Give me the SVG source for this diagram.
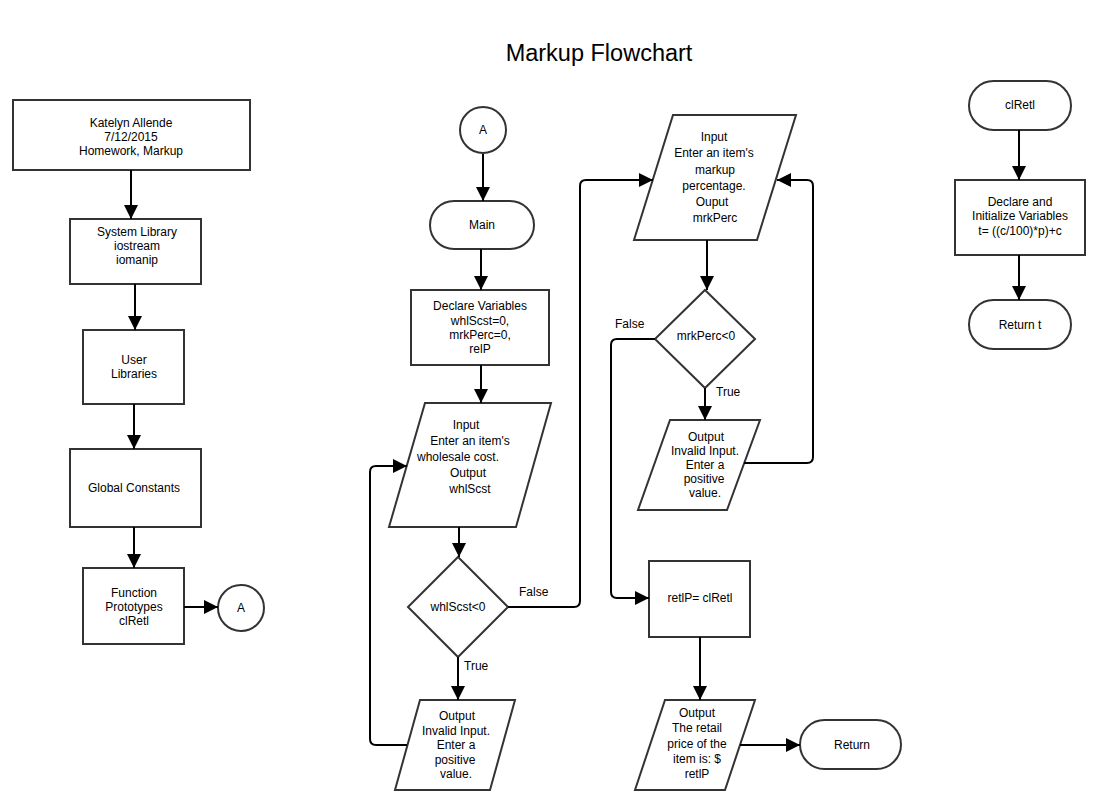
<svg xmlns="http://www.w3.org/2000/svg" width="1110" height="810" viewBox="0 0 1110 810">
<style>
.s{fill:#fff;stroke:#333;stroke-width:2}
.t{font-family:"Liberation Sans",Arial,sans-serif;font-size:12px;fill:#000;text-anchor:middle}
.l{font-family:"Liberation Sans",Arial,sans-serif;font-size:12px;fill:#000}
.c{fill:none;stroke:#000;stroke-width:2}
</style>
<defs>
<marker id="ah" markerUnits="userSpaceOnUse" markerWidth="14" markerHeight="14" refX="14" refY="7" orient="auto">
<path d="M0,0 L14,7 L0,14 z" fill="#000"/>
</marker>
</defs>
<rect width="1110" height="810" fill="#fff"/>
<text x="599" y="61" style="font-family:'Liberation Sans',Arial,sans-serif;font-size:23.5px;text-anchor:middle">Markup Flowchart</text>

<g id="header"><rect class="s" x="13" y="100" width="237" height="70"/>
<text class="t" x="131" y="127">Katelyn Allende</text><text class="t" x="131" y="141">7/12/2015</text><text class="t" x="131" y="155">Homework, Markup</text></g>
<g id="syslib"><rect class="s" x="70" y="219" width="131" height="65"/>
<text class="t" x="137" y="236">System Library</text><text class="t" x="137" y="250">iostream</text><text class="t" x="137" y="264">iomanip</text></g>
<g id="userlib"><rect class="s" x="83" y="330" width="101" height="74"/>
<text class="t" x="134" y="364">User</text><text class="t" x="134" y="378">Libraries</text></g>
<g id="globals"><rect class="s" x="70" y="449" width="131" height="78"/>
<text class="t" x="134" y="492">Global Constants</text></g>
<g id="protos"><rect class="s" x="83" y="568" width="101" height="76"/>
<text class="t" x="134" y="597">Function</text><text class="t" x="134" y="611">Prototypes</text><text class="t" x="134" y="625">clRetl</text></g>
<g id="connA1"><circle class="s" cx="241" cy="608" r="23"/><text class="t" x="241" y="612">A</text></g>

<g id="connA2"><circle class="s" cx="483" cy="130" r="23"/><text class="t" x="483" y="134">A</text></g>
<g id="main"><rect class="s" x="430" y="201" width="104" height="48" rx="24"/><text class="t" x="482" y="229">Main</text></g>
<g id="declare"><rect class="s" x="411" y="290" width="138" height="75"/>
<text class="t" x="480" y="310">Declare Variables</text><text class="t" x="480" y="325">whlScst=0,</text><text class="t" x="480" y="339">mrkPerc=0,</text><text class="t" x="480" y="353">relP</text></g>
<g id="input1"><polygon class="s" points="425,403 551,403 516,527 389,527"/>
<text class="t" x="466" y="429">Input</text><text class="t" x="470" y="445">Enter an item's</text><text class="t" x="458" y="461">wholesale cost.</text><text class="t" x="468" y="477">Output</text><text class="t" x="470" y="493">whlScst</text></g>
<g id="dec1"><polygon class="s" points="458,557 508,607 458,657 408,607"/><text class="t" x="458" y="611">whlScst&lt;0</text></g>
<g id="out1"><polygon class="s" points="420,700 515,700 490,790 395,790"/>
<text class="t" x="457" y="720">Output</text><text class="t" x="456" y="735">Invalid Input.</text><text class="t" x="456" y="749">Enter a</text><text class="t" x="455" y="764">positive</text><text class="t" x="456" y="778">value.</text></g>

<g id="input2"><polygon class="s" points="673,115 796,115 757,240 634,240"/>
<text class="t" x="714" y="141">Input</text><text class="t" x="714" y="157">Enter an item's</text><text class="t" x="715" y="174">markup</text><text class="t" x="714" y="190">percentage.</text><text class="t" x="712" y="206">Ouput</text><text class="t" x="715" y="222">mrkPerc</text></g>
<g id="dec2"><polygon class="s" points="705,290 755,339 705,388 655,339"/><text class="t" x="706" y="340">mrkPerc&lt;0</text></g>
<g id="out2"><polygon class="s" points="670,420 760,420 727,510 638,510"/>
<text class="t" x="706" y="441">Output</text><text class="t" x="705" y="455">Invalid Input.</text><text class="t" x="705" y="469">Enter a</text><text class="t" x="704" y="483">positive</text><text class="t" x="705" y="497">value.</text></g>
<g id="retlp"><rect class="s" x="649" y="561" width="101" height="76"/><text class="t" x="700" y="602">retlP= clRetl</text></g>
<g id="out3"><polygon class="s" points="665,700 755,700 725,790 635,790"/>
<text class="t" x="697" y="717">Output</text><text class="t" x="697" y="732">The retail</text><text class="t" x="697" y="748">price of the</text><text class="t" x="697" y="763">item is: $</text><text class="t" x="697" y="778">retlP</text></g>
<g id="ret"><rect class="s" x="800" y="720" width="101" height="49" rx="24.5"/><text class="t" x="852" y="749">Return</text></g>

<g id="clretl"><rect class="s" x="969" y="81" width="102" height="49" rx="24.5"/><text class="t" x="1020" y="109">clRetl</text></g>
<g id="declinit"><rect class="s" x="955" y="180" width="130" height="75"/>
<text class="t" x="1020" y="206">Declare and</text><text class="t" x="1020" y="220">Initialize Variables</text><text class="t" x="1020" y="235">t= ((c/100)*p)+c</text></g>
<g id="returnt"><rect class="s" x="969" y="300" width="102" height="49" rx="24.5"/><text class="t" x="1020" y="329">Return t</text></g>

<g id="connectors">
<path class="c" marker-end="url(#ah)" d="M131,170 V219"/>
<path class="c" marker-end="url(#ah)" d="M135,284 V330"/>
<path class="c" marker-end="url(#ah)" d="M134,404 V449"/>
<path class="c" marker-end="url(#ah)" d="M134,527 V568"/>
<path class="c" marker-end="url(#ah)" d="M184,607 H218"/>
<path class="c" marker-end="url(#ah)" d="M483,154 V201"/>
<path class="c" marker-end="url(#ah)" d="M481,249 V290"/>
<path class="c" marker-end="url(#ah)" d="M481,365 V403"/>
<path class="c" marker-end="url(#ah)" d="M459,527 V557"/>
<path class="c" marker-end="url(#ah)" d="M508,607 H574 Q580,607 580,601 V186 Q580,180 586,180 H653"/>
<path class="c" marker-end="url(#ah)" d="M458,657 V700"/>
<path class="c" marker-end="url(#ah)" d="M407,745 H376 Q370,745 370,739 V472 Q370,466 376,466 H407"/>
<path class="c" marker-end="url(#ah)" d="M707,240 V290"/>
<path class="c" marker-end="url(#ah)" d="M655,339 H617 Q611,339 611,345 V592 Q611,598 617,598 H649"/>
<path class="c" marker-end="url(#ah)" d="M705,388 V420"/>
<path class="c" marker-end="url(#ah)" d="M744,463 H807 Q813,463 813,457 V186 Q813,180 807,180 H777"/>
<path class="c" marker-end="url(#ah)" d="M700,637 V700"/>
<path class="c" marker-end="url(#ah)" d="M740,745 H800"/>
<path class="c" marker-end="url(#ah)" d="M1019,130 V180"/>
<path class="c" marker-end="url(#ah)" d="M1019,255 V300"/>
<text class="l" x="519" y="596">False</text>
<text class="l" x="464" y="670">True</text>
<text class="l" x="615" y="328">False</text>
<text class="l" x="716" y="396">True</text>
</g>
</svg>
